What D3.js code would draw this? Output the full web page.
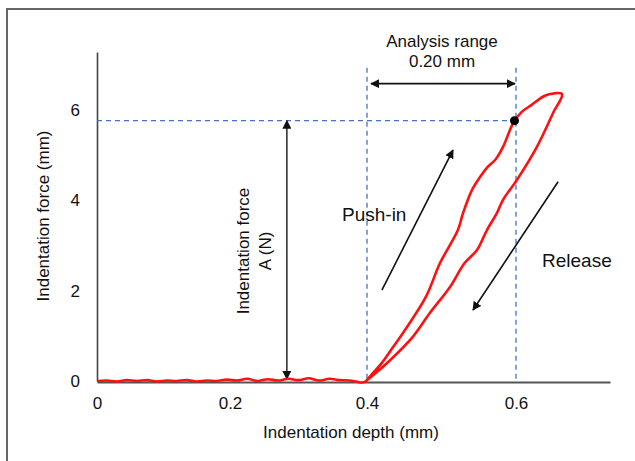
<!DOCTYPE html>
<html>
<head>
<meta charset="utf-8">
<script src="https://cdn.jsdelivr.net/npm/d3@7"></script>
<style>
  body { margin: 0; background: #fff; }
  svg text { font-family: "Liberation Sans", Arial, sans-serif; fill: #111; }
</style>
</head>
<body>
<svg id="chart" width="635" height="461"></svg>
<script>
// tick positions
const xTicks = [0, 0.2, 0.4, 0.6]
const xTickLabels = ["0", "0.2", "0.4", "0.6"]
const yTicks = [0, 2, 4, 6]

// flat part before contact
const baseDepth = [0, 0.015, 0.03, 0.045, 0.06, 0.075, 0.09, 0.105, 0.12, 0.135, 0.15, 0.165, 0.18, 0.195, 0.21, 0.225, 0.24, 0.255, 0.27, 0.285, 0.3, 0.315, 0.33, 0.345, 0.36, 0.375, 0.39]
const baseForce = [0, 0.01, -0.01, 0.02, 0, 0.02, -0.01, 0.01, 0, 0.02, -0.01, 0.01, 0, 0.03, 0.01, 0.05, 0, 0.04, 0.01, 0.05, 0.02, 0.06, 0.01, 0.05, 0.02, 0.01, -0.03]

// push-in branch
const inDepth = [0.39, 0.397, 0.405, 0.42, 0.435, 0.451, 0.479, 0.498, 0.522, 0.529, 0.541, 0.552, 0.562, 0.572, 0.5826, 0.592, 0.597, 0.608, 0.621, 0.636, 0.6456, 0.6617]
const inForce = [-0.03, -0.02, 0.12, 0.4, 0.75, 1.13, 1.86, 2.61, 3.34, 3.72, 4.23, 4.52, 4.74, 4.89, 5.18, 5.56, 5.73, 5.96, 6.11, 6.29, 6.35, 6.35]

// release branch
const outDepth = [0.6617, 0.6497, 0.628, 0.6013, 0.5826, 0.5745, 0.561, 0.5477, 0.531, 0.5114, 0.4846, 0.4600, 0.4309, 0.412, 0.397]
const outForce = [6.35, 5.93, 5.18, 4.45, 4.01, 3.72, 3.34, 2.9, 2.61, 2.08, 1.51, 0.95, 0.46, 0.18, -0.02]

// annotations (data space)
const peakDepth = 0.598
const peakForce = 5.76
const rangeDepth = [0.4, 0.6]
const rangeTop = 6.93
const rangeArrowForce = 6.58
const forceArrowDepth = 0.283
const pushArrow = [[0.420, 2.01], [0.5154, 5.11]]
const releaseArrow = [[0.6564, 4.41], [0.5423, 1.57]]

const svg = d3.select("#chart")

// x positions on the picture are not evenly spaced, so piecewise scale
const x = d3.scaleLinear()
    .domain([0, 0.2, 0.4, 0.6, 0.726])
    .range([97, 230, 367, 516, 610])

const y = d3.scaleLinear()
    .domain([0, 7.28])
    .range([381, 52])

// outer frame (left & top)
svg.append("path")
    .attr("d", "M7,461 V9 H635")
    .attr("fill", "none")
    .attr("stroke", "#666")
    .attr("stroke-width", 2)

// axes
const xAxis = svg.append("g")
    .attr("transform", `translate(0,${y(0) + 1})`)
    .call(d3.axisBottom(x).tickValues(xTicks).tickFormat((d, i) => xTickLabels[i]).tickSize(0).tickPadding(15))
xAxis.select(".domain").attr("stroke", "#555").attr("stroke-width", 2.2)
xAxis.selectAll("text").style("font-size", "17px").attr("fill", "#111")

const yAxis = svg.append("g")
    .attr("transform", `translate(${x(0)},0)`)
    .call(d3.axisLeft(y).tickValues(yTicks).tickSize(0).tickPadding(17))
yAxis.select(".domain").attr("stroke", "#444").attr("stroke-width", 1.6)
yAxis.selectAll("text").style("font-size", "17px").attr("fill", "#111")

// axis titles
svg.append("text")
    .attr("x", 351)
    .attr("y", 438)
    .attr("text-anchor", "middle")
    .style("font-size", "17px")
    .text("Indentation depth (mm)")

svg.append("text")
    .attr("transform", "translate(49,216) rotate(-90)")
    .attr("text-anchor", "middle")
    .style("font-size", "17px")
    .text("Indentation force (mm)")

// blue dashed guides
const guide = (x1, y1, x2, y2) => svg.append("line")
    .attr("x1", x1).attr("y1", y1).attr("x2", x2).attr("y2", y2)
    .attr("stroke", "#4472c4")
    .attr("stroke-width", 1.3)
    .attr("stroke-dasharray", "5,4")

guide(x(0), y(peakForce), x(0.6), y(peakForce))
rangeDepth.forEach(d => guide(x(d), y(rangeTop), x(d), y(0)))

// arrow markers
const defs = svg.append("defs")
defs.append("marker")
    .attr("id", "head")
    .attr("viewBox", "0 0 10 10")
    .attr("refX", 9).attr("refY", 5)
    .attr("markerWidth", 9).attr("markerHeight", 9)
    .attr("markerUnits", "userSpaceOnUse")
    .attr("orient", "auto-start-reverse")
    .append("path")
    .attr("d", "M0,0 L10,5 L0,10 z")
    .attr("fill", "#111")

const arrow = (x1, y1, x2, y2, both, color) => svg.append("line")
    .attr("x1", x1).attr("y1", y1).attr("x2", x2).attr("y2", y2)
    .attr("stroke", color || "#111")
    .attr("stroke-width", 1.6)
    .attr("marker-end", "url(#head)")
    .attr("marker-start", both ? "url(#head)" : null)

// analysis range
arrow(x(rangeDepth[0]) + 4, y(rangeArrowForce), x(rangeDepth[1]) - 1, y(rangeArrowForce), true)
svg.append("text")
    .attr("x", x(0.5007)).attr("y", y(rangeArrowForce) - 37)
    .attr("text-anchor", "middle")
    .style("font-size", "17px")
    .text("Analysis range")
svg.append("text")
    .attr("x", x(0.5007)).attr("y", y(rangeArrowForce) - 17)
    .attr("text-anchor", "middle")
    .style("font-size", "17px")
    .text("0.20 mm")

// force A arrow
arrow(x(forceArrowDepth), y(peakForce), x(forceArrowDepth), y(0) - 2, true, "#333")
svg.append("text")
    .attr("transform", `translate(${x(forceArrowDepth) - 38},251) rotate(-90)`)
    .attr("text-anchor", "middle")
    .style("font-size", "17px")
    .text("Indentation force")
svg.append("text")
    .attr("transform", `translate(${x(forceArrowDepth) - 16},251) rotate(-90)`)
    .attr("text-anchor", "middle")
    .style("font-size", "17px")
    .text("A (N)")

// push-in / release
arrow(x(pushArrow[0][0]), y(pushArrow[0][1]), x(pushArrow[1][0]), y(pushArrow[1][1]))
arrow(x(releaseArrow[0][0]), y(releaseArrow[0][1]), x(releaseArrow[1][0]), y(releaseArrow[1][1]))
svg.append("text")
    .attr("x", 342).attr("y", 221)
    .style("font-size", "19px")
    .text("Push-in")
svg.append("text")
    .attr("x", 542).attr("y", 267)
    .style("font-size", "19px")
    .text("Release")

// curve
const line = d3.line()
    .x(d => x(d[0]))
    .y(d => y(d[1]))
    .curve(d3.curveCatmullRom)

const pts = []
baseDepth.forEach((d, i) => pts.push([d, baseForce[i]]))
inDepth.forEach((d, i) => pts.push([d, inForce[i]]))
outDepth.forEach((d, i) => { if (i > 0) pts.push([d, outForce[i]]) })

svg.append("path")
    .datum(pts)
    .attr("d", line)
    .attr("fill", "none")
    .attr("stroke", "#ff1010")
    .attr("stroke-width", 2.6)
    .attr("stroke-linejoin", "round")

// peak point
svg.append("circle")
    .attr("cx", x(peakDepth))
    .attr("cy", y(peakForce))
    .attr("r", 4.5)
    .attr("fill", "#000")
</script>
</body>
</html>
